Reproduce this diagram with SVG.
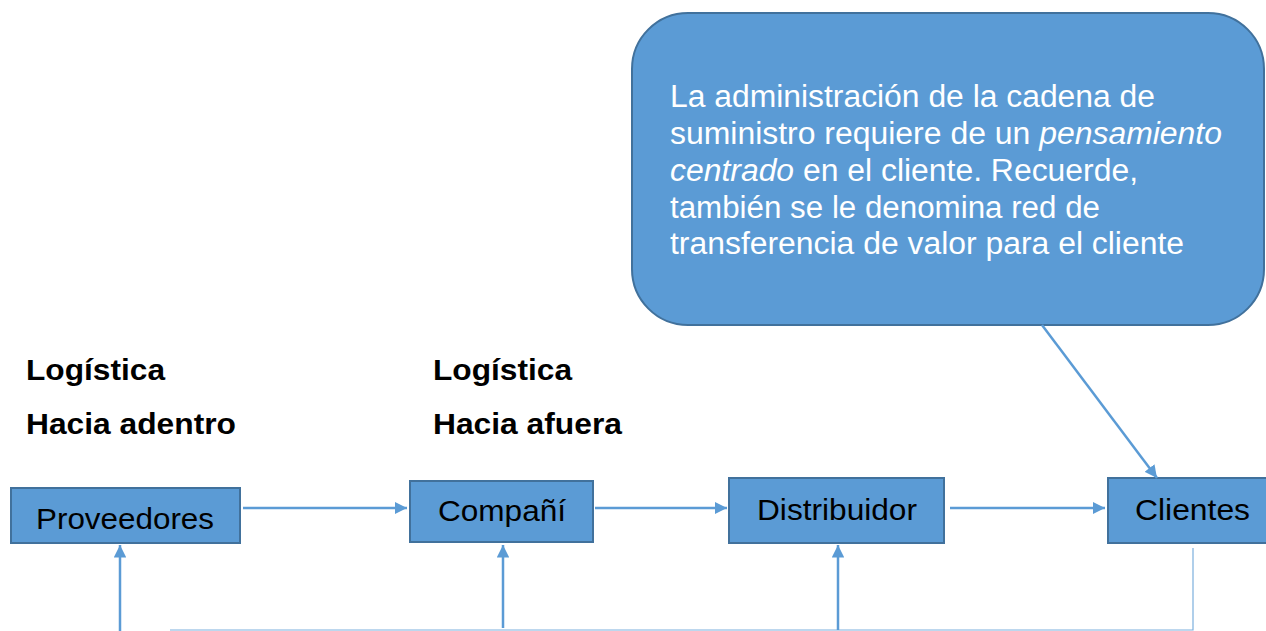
<svg xmlns="http://www.w3.org/2000/svg" width="1266" height="631" viewBox="0 0 1266 631">
<style>
.box{fill:#5B9BD5;stroke:#41719C;stroke-width:2}
.lbl{font-family:"Liberation Sans",Arial,sans-serif;font-size:30px;fill:#000}
.hd{font-family:"Liberation Sans",Arial,sans-serif;font-size:29px;font-weight:bold;fill:#000}
.call{font-family:"Liberation Sans",Arial,sans-serif;font-size:31px;fill:#fff}
.con{stroke:#5B9BD5;stroke-width:2.5;fill:none}
</style>
<defs>
<marker id="ah" viewBox="0 0 10 10" refX="10" refY="5" markerWidth="5" markerHeight="5" markerUnits="strokeWidth" orient="auto">
<path d="M0,0 L10,5 L0,10 z" fill="#5B9BD5"/>
</marker>
</defs>
<rect width="1266" height="631" fill="#fff"/>
<g id="callout">
<rect x="632" y="13" width="632" height="312" rx="56" ry="56" class="box"/>
<text class="call" x="670" y="107" textLength="485" lengthAdjust="spacingAndGlyphs">La administración de la cadena de</text>
<text class="call" x="670" y="144" textLength="552" lengthAdjust="spacingAndGlyphs">suministro requiere de un <tspan font-style="italic">pensamiento</tspan></text>
<text class="call" x="670" y="181" textLength="468" lengthAdjust="spacingAndGlyphs"><tspan font-style="italic">centrado</tspan> en el cliente. Recuerde,</text>
<text class="call" x="670" y="218" textLength="430" lengthAdjust="spacingAndGlyphs">también se le denomina red de</text>
<text class="call" x="670" y="254" textLength="514" lengthAdjust="spacingAndGlyphs">transferencia de valor para el cliente</text>
</g>
<g id="labels">
<text class="hd" x="26" y="380" textLength="139" lengthAdjust="spacingAndGlyphs">Logística</text>
<text class="hd" x="26" y="434" textLength="210" lengthAdjust="spacingAndGlyphs">Hacia adentro</text>
<text class="hd" x="433" y="380" textLength="139" lengthAdjust="spacingAndGlyphs">Logística</text>
<text class="hd" x="433" y="434" textLength="189" lengthAdjust="spacingAndGlyphs">Hacia afuera</text>
</g>
<g id="proveedores">
<rect x="11" y="488" width="229" height="55" class="box"/>
<text class="lbl" x="36" y="529" textLength="178" lengthAdjust="spacingAndGlyphs">Proveedores</text>
</g>
<g id="compania">
<rect x="410" y="481" width="183" height="61" class="box"/>
<text class="lbl" x="438" y="521" textLength="128" lengthAdjust="spacingAndGlyphs">Compañí</text>
</g>
<g id="distribuidor">
<rect x="729" y="478" width="215" height="65" class="box"/>
<text class="lbl" x="757" y="520" textLength="160" lengthAdjust="spacingAndGlyphs">Distribuidor</text>
</g>
<g id="clientes">
<rect x="1108" y="478" width="170" height="65" class="box"/>
<text class="lbl" x="1135" y="520" textLength="115" lengthAdjust="spacingAndGlyphs">Clientes</text>
</g>
<g id="connectors">
<line class="con" x1="243" y1="508" x2="407" y2="508" marker-end="url(#ah)"/>
<line class="con" x1="595" y1="508" x2="727" y2="508" marker-end="url(#ah)"/>
<line class="con" x1="950" y1="508" x2="1105" y2="508" marker-end="url(#ah)"/>
<line class="con" x1="1042" y1="325" x2="1157" y2="478" marker-end="url(#ah)"/>
<line class="con" x1="120" y1="631" x2="120" y2="545" marker-end="url(#ah)"/>
<line class="con" x1="503" y1="628" x2="503" y2="545" marker-end="url(#ah)"/>
<line class="con" x1="838" y1="630" x2="838" y2="545" marker-end="url(#ah)"/>
<polyline points="1193,548 1193,630 170,630" fill="none" stroke="#5B9BD5" stroke-width="1.2" stroke-opacity="0.8"/>
</g>
</svg>
